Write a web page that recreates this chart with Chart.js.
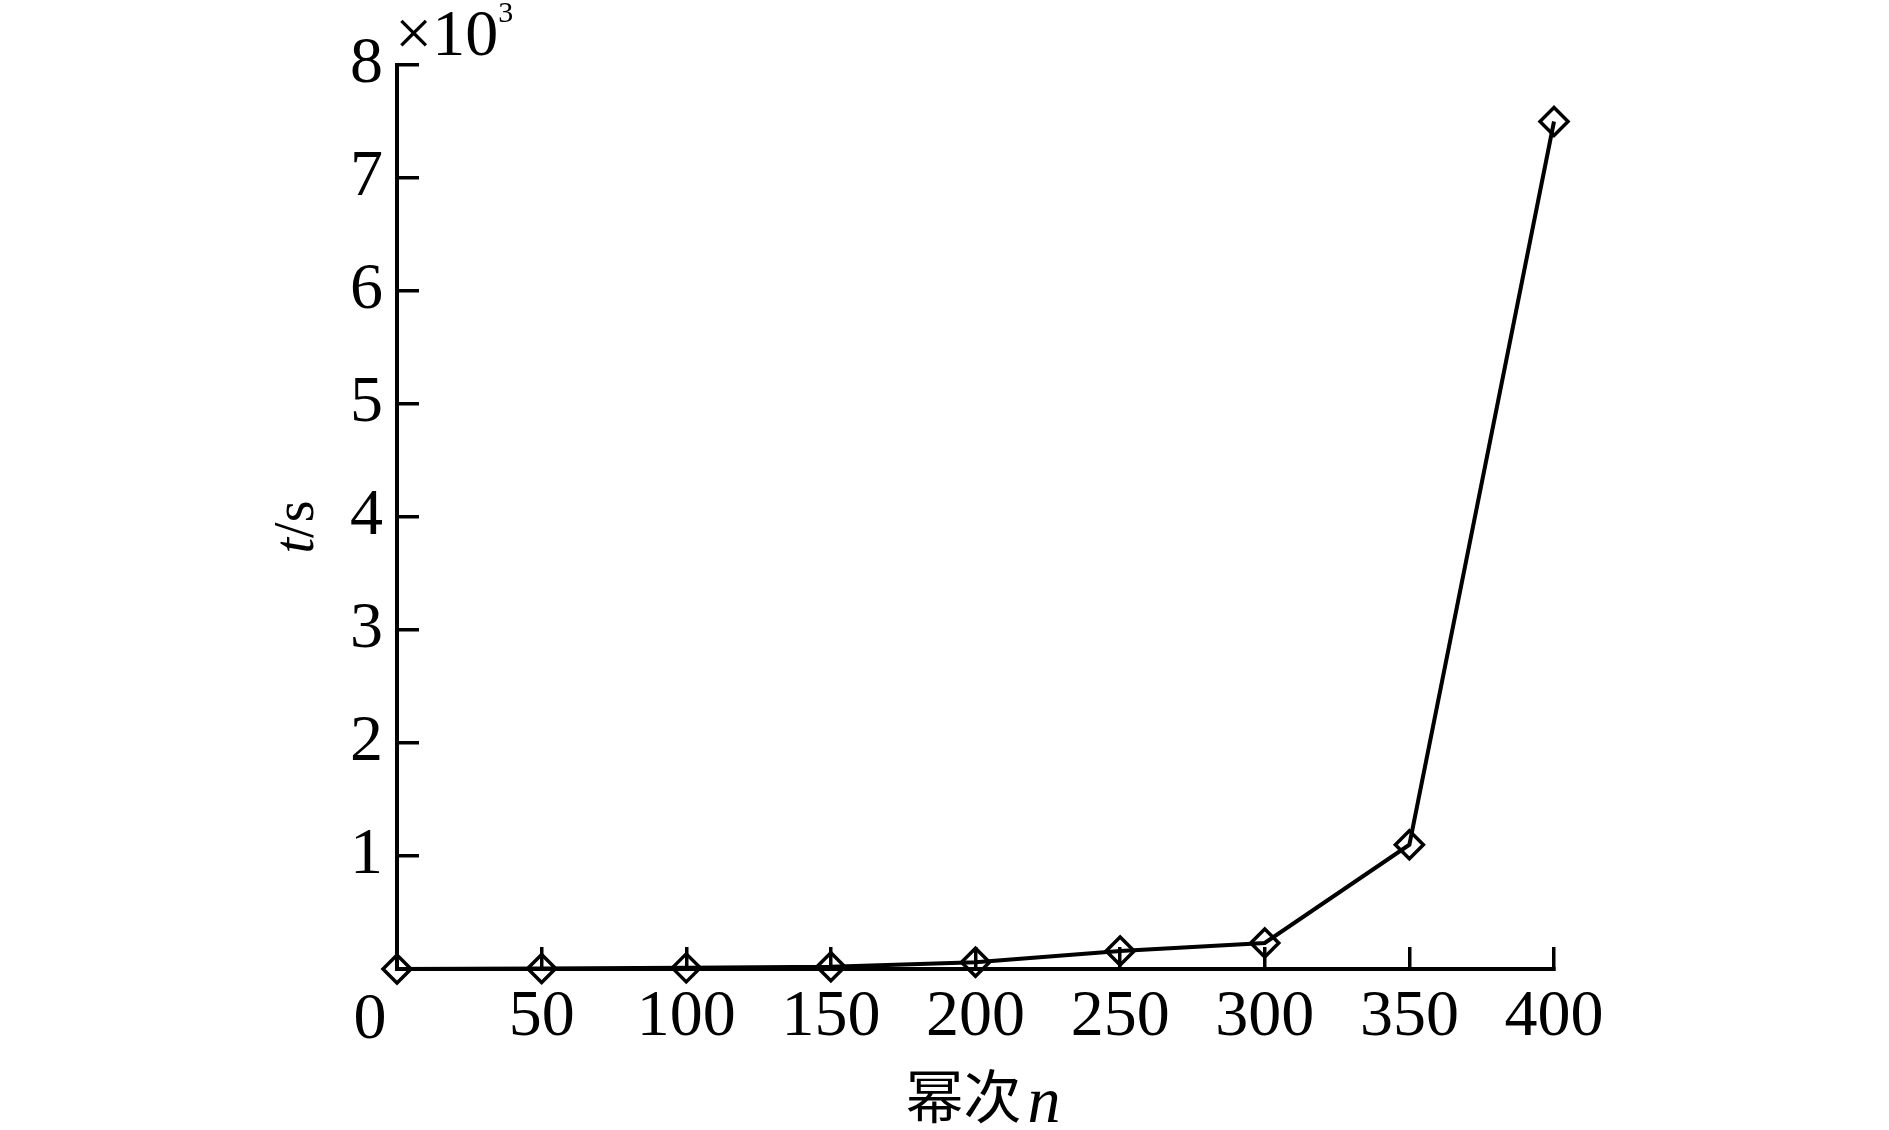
<!DOCTYPE html>
<html>
<head>
<meta charset="utf-8">
<title>幂次n - t/s</title>
<script src="https://cdn.jsdelivr.net/npm/chart.js@4/dist/chart.umd.min.js"></script>
<style>
    html, body { margin: 0; padding: 0; background: #fff; }
    #wrap { width: 1889px; height: 1130px; }
</style>
</head>
<body>
<div id="wrap"><canvas id="timeChart" width="1889" height="1130"></canvas></div>
<script>
// Données (t en 10^3 s)
const powers = [0, 50, 100, 150, 200, 250, 300, 350, 400];
const timeK = [0, 0.005, 0.01, 0.02, 0.06, 0.16, 0.23, 1.1, 7.5];

// Graduations des axes
const xTicks = [0, 50, 100, 150, 200, 250, 300, 350, 400];
const yTicks = [0, 1, 2, 3, 4, 5, 6, 7, 8];

const SERIF = '"Liberation Serif", "DejaVu Serif", serif';
const CJK = '"Noto Sans CJK SC", sans-serif';

// --- Textes dessinés à la main : ×10^3, titres des axes, le "0" décalé ---
const axisTextPlugin = {
    id: 'axisText',
    afterDraw(chart) {
        const ctx = chart.ctx;
        const area = chart.chartArea;
        const xs = chart.scales.x;
        ctx.save();
        ctx.fillStyle = '#000';
        ctx.textBaseline = 'alphabetic';

        // ×10³ au-dessus de l'axe vertical
        ctx.font = '66px ' + SERIF;
        ctx.textAlign = 'left';
        const mx = area.left - 2;
        const my = area.top - 10;
        ctx.fillText('×10', mx, my);
        const w = ctx.measureText('×10').width;
        ctx.font = '30px ' + SERIF;
        ctx.fillText('3', mx + w, my - 33);

        // "0" de l'axe horizontal, décalé vers la gauche
        ctx.font = '66px ' + SERIF;
        ctx.textAlign = 'center';
        ctx.fillText('0', xs.getPixelForValue(0) - 27, area.bottom + 69);

        // Titre de l'axe x : 幂次n
        ctx.textAlign = 'left';
        ctx.font = '58px ' + CJK;
        const cjk = '幂次';
        const cw = ctx.measureText(cjk).width;
        ctx.font = 'italic 66px ' + SERIF;
        const nw = ctx.measureText('n').width;
        const total = cw + 6 + nw;
        const tx = 983 - total / 2;
        const ty = area.bottom + 153;
        ctx.font = '58px ' + CJK;
        ctx.fillText(cjk, tx, ty - 4);
        ctx.font = 'italic 66px ' + SERIF;
        ctx.fillText('n', tx + cw + 6, ty);

        // Titre de l'axe y : t/s (vertical)
        ctx.translate(area.left - 84, (area.top + area.bottom) / 2 + 10);
        ctx.rotate(-Math.PI / 2);
        ctx.font = 'italic 56px ' + SERIF;
        const tw = ctx.measureText('t').width;
        ctx.font = '56px ' + SERIF;
        const sw = ctx.measureText('/s').width;
        const start = -(tw + sw) / 2;
        ctx.font = 'italic 56px ' + SERIF;
        ctx.fillText('t', start, 0);
        ctx.font = '56px ' + SERIF;
        ctx.fillText('/s', start + tw, 0);

        ctx.restore();
    }
};

function initChart() {
    Chart.defaults.font.family = SERIF;
    Chart.defaults.color = '#000';

    const ctx = document.getElementById('timeChart').getContext('2d');
    return new Chart(ctx, {
        type: 'line',
        data: {
            datasets: [{
                data: powers.map((p, i) => ({ x: p, y: timeK[i] })),
                borderColor: '#000',
                borderWidth: 4,
                tension: 0,
                pointStyle: 'rectRot',
                pointRadius: 14,
                pointBorderWidth: 3.5,
                pointBorderColor: '#000',
                pointBackgroundColor: 'rgba(0,0,0,0)',
                clip: false
            }]
        },
        options: {
            responsive: false,
            animation: false,
            devicePixelRatio: 1,
            layout: { padding: { top: 65, right: 335, left: 0, bottom: 0 } },
            plugins: {
                legend: { display: false },
                tooltip: { enabled: false }
            },
            scales: {
                x: {
                    type: 'linear',
                    min: xTicks[0],
                    max: xTicks[xTicks.length - 1],
                    afterBuildTicks: (scale) => { scale.ticks = xTicks.map(v => ({ value: v })); },
                    afterFit: (scale) => { scale.height = 161; },
                    grid: { drawOnChartArea: false, drawTicks: true, tickLength: -22, lineWidth: 3.5, color: '#000' },
                    border: { display: true, width: 4, color: '#000' },
                    ticks: {
                        font: { size: 66, lineHeight: 1.2 },
                        padding: 31,
                        maxRotation: 0,
                        autoSkip: false,
                        callback: (v) => (v === 0 ? '' : String(v))
                    }
                },
                y: {
                    type: 'linear',
                    min: yTicks[0],
                    max: yTicks[yTicks.length - 1],
                    afterBuildTicks: (scale) => { scale.ticks = yTicks.map(v => ({ value: v })); },
                    afterFit: (scale) => {
                        scale.width = 397;
                        // le débordement des étiquettes ne doit pas pousser la zone du graphique
                        scale.paddingTop = 0;
                        scale.paddingBottom = 0;
                    },
                    grid: { drawOnChartArea: false, drawTicks: true, tickLength: -22, lineWidth: 3.5, color: '#000' },
                    border: { display: true, width: 4, color: '#000' },
                    ticks: {
                        font: { size: 66, lineHeight: 1.2 },
                        padding: 36,
                        autoSkip: false,
                        callback: (v) => (v === 0 ? '' : String(v))
                    }
                }
            }
        },
        plugins: [axisTextPlugin]
    });
}

document.addEventListener('DOMContentLoaded', () => {
    initChart();
});
</script>
</body>
</html>
